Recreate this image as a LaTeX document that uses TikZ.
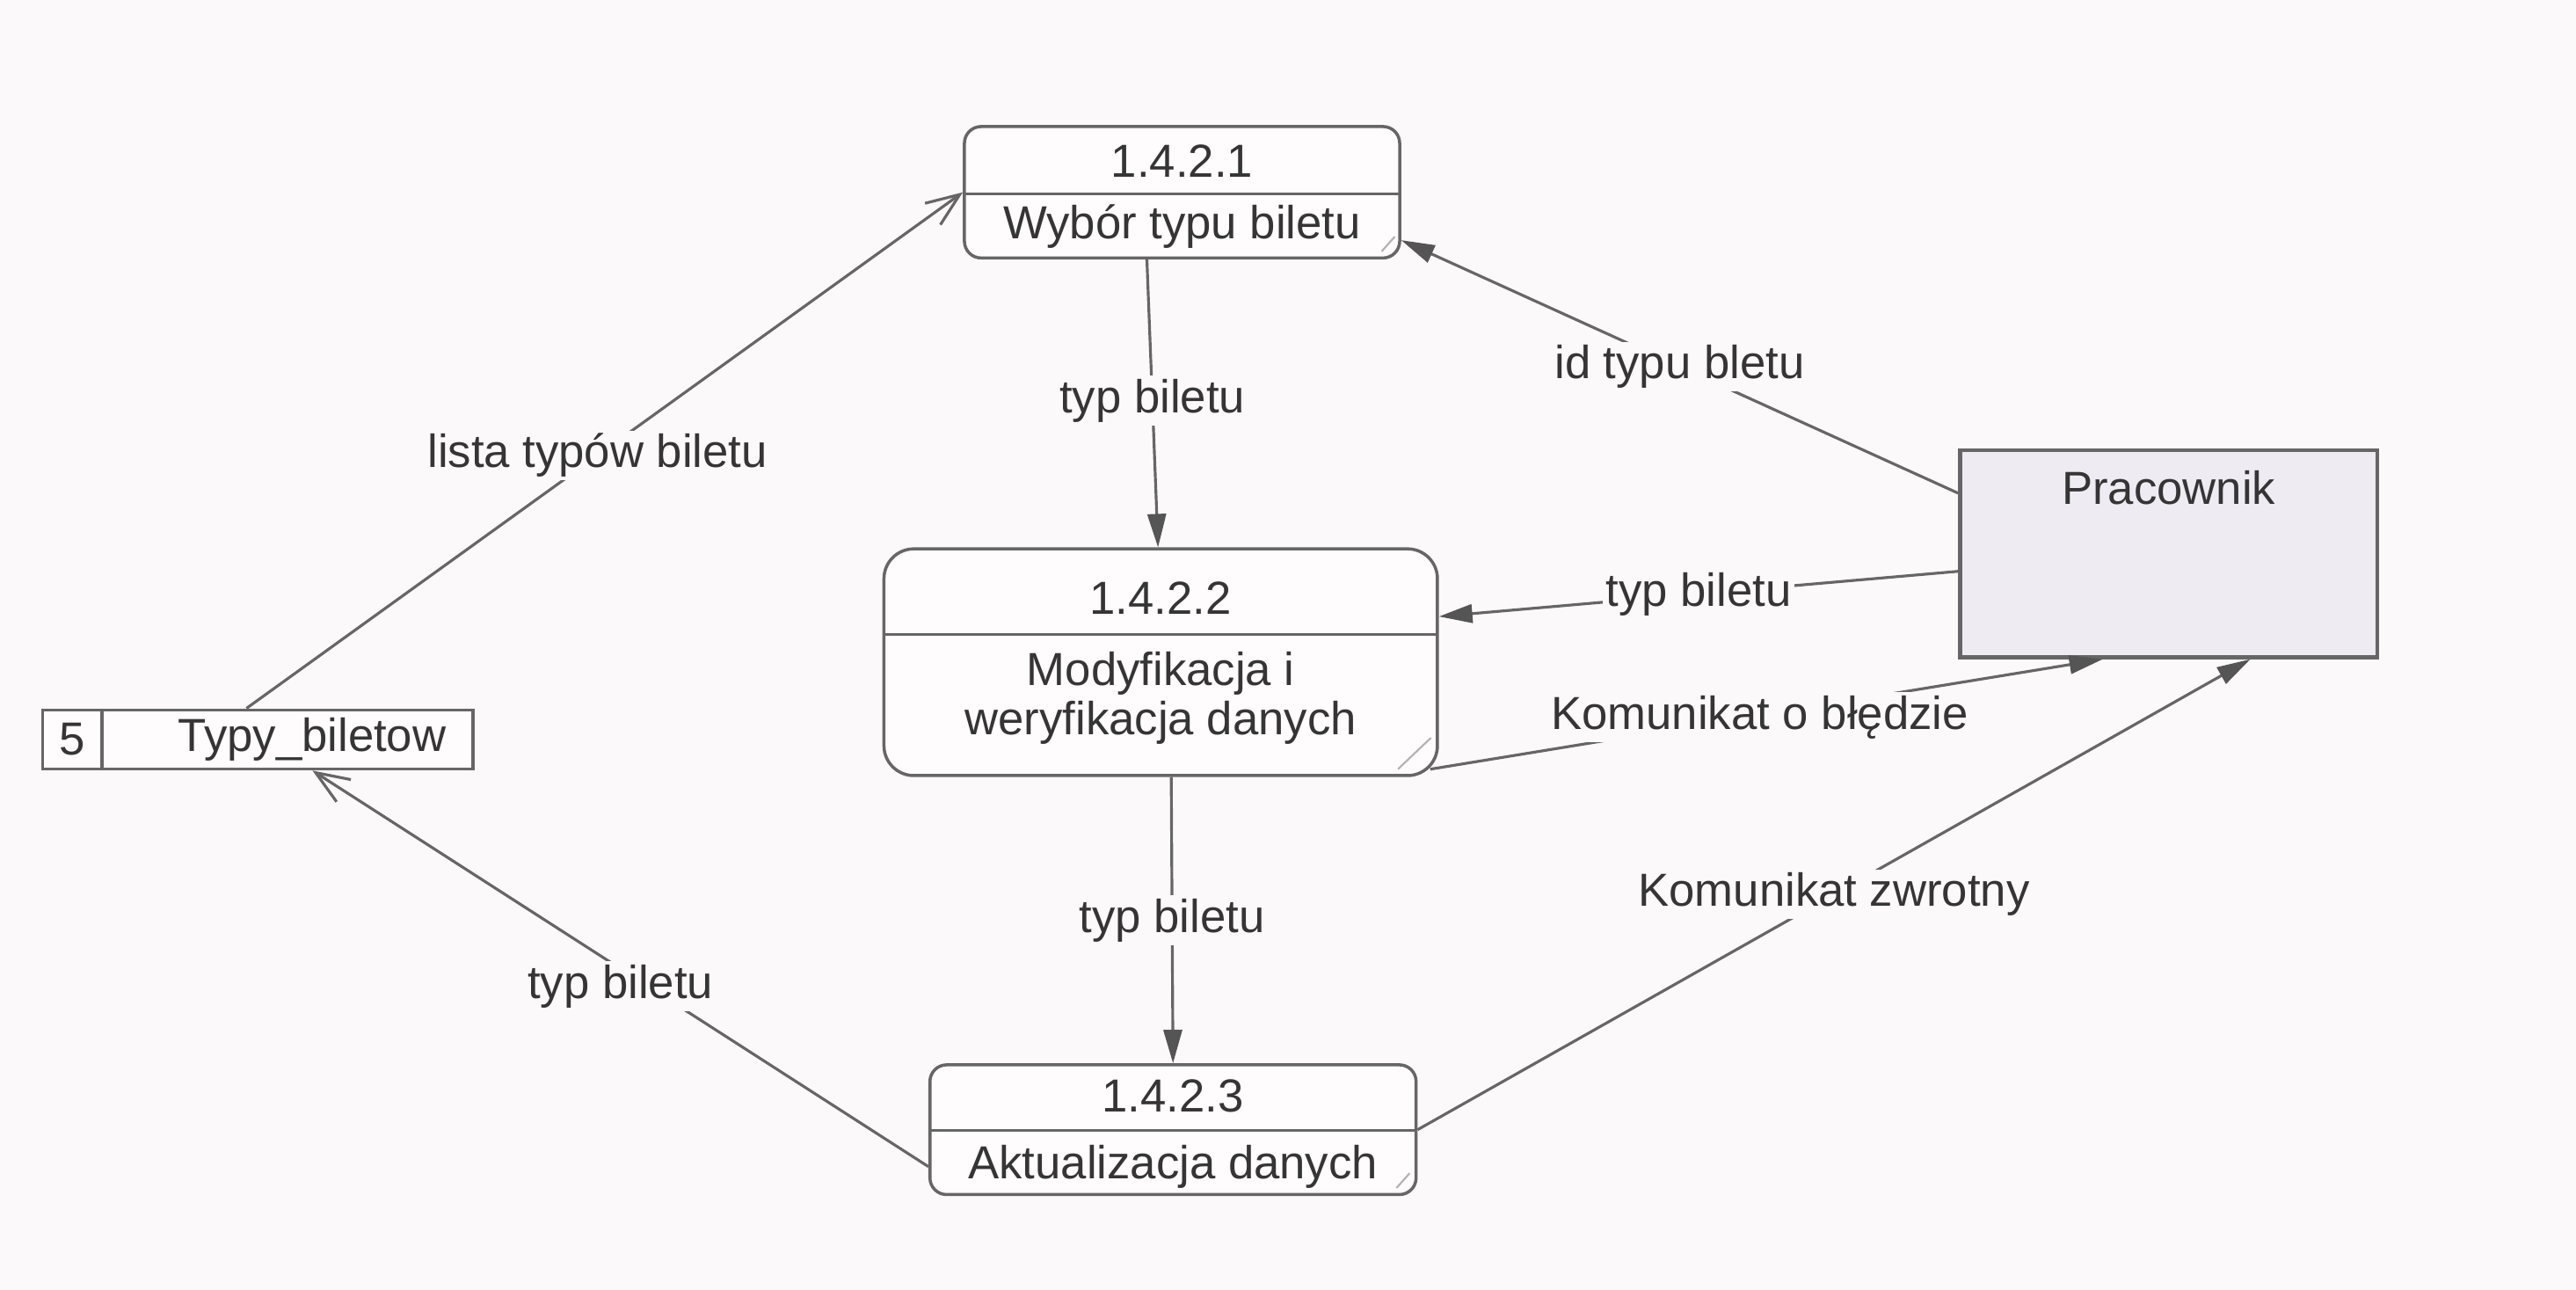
\documentclass[tikz,border=0pt]{standalone}
\usepackage{fontspec}
\setmainfont{Liberation Sans}
\usetikzlibrary{arrows.meta,calc}
\definecolor{bg}{HTML}{FCF9FB}
\definecolor{ln}{HTML}{666666}
\definecolor{tip}{HTML}{555555}
\definecolor{tx}{HTML}{353535}
\definecolor{ent}{HTML}{EEEBF3}
\begin{document}
\begin{tikzpicture}[x=0.018686cm,y=-0.018686cm,
  font=\fontsize{15}{17.5}\selectfont, text=tx,
  proc/.style={draw=ln, line width=1pt, fill=white!50!bg, inner sep=0pt},
  store/.style={draw=ln, line width=1pt, fill=white!50!bg, inner sep=0pt, minimum width=4.896cm, minimum height=0.673cm},
  extent/.style={draw=ln, line width=1.3pt, fill=ent, inner sep=0pt, minimum width=4.746cm, minimum height=2.354cm},
  txt/.style={inner sep=0pt},
  flow/.style={draw=ln, line width=0.9pt},
  ftip/.style={-{Triangle[length=0.38cm,width=0.21cm,color=tip]}},
  otip/.style={-{Straight Barb[length=0.38cm,width=0.3cm]}},
  lbl/.style={fill=bg, inner sep=1pt, text=tx},
  tick/.style={draw=ln!50, line width=0.6pt}
]
\fill[bg] (0,0) rectangle (1568,785);
\useasboundingbox (0,0) rectangle (1568,785);

% processes
\node[proc, rounded corners=0.19cm, minimum width=4.952cm, minimum height=1.495cm] (p1) at (719.5,117) {};
\draw[draw=ln, line width=1pt] (587,118) -- (852,118);
\node[txt] (p1n) at (719.5,98) {1.4.2.1};
\node[txt] (p1t) at (719.5,138) {Wybór typu biletu};
\draw[tick] (841,153) -- (849,144);

\node[proc, rounded corners=0.34cm, minimum width=6.297cm, minimum height=2.579cm] (p2) at (706.5,403) {};
\draw[draw=ln, line width=1pt] (538,386) -- (875,386);
\node[txt] (p2n) at (706.5,364) {1.4.2.2};
\node[txt] (p2a) at (706.5,410) {Modyfikacja i};
\node[txt] (p2b) at (706.5,440) {weryfikacja danych};
\draw[tick] (851,468) -- (871,449);

\node[proc, rounded corners=0.19cm, minimum width=5.531cm, minimum height=1.476cm] (p3) at (714,687.5) {};
\draw[draw=ln, line width=1pt] (566,688) -- (862,688);
\node[txt] (p3n) at (714,667) {1.4.2.3};
\node[txt] (p3t) at (714,710) {Aktualizacja danych};
\draw[tick] (850,723) -- (858,714);

% data store
\node[store] (st) at (157,450) {};
\draw[draw=ln, line width=1pt] (62,432) -- (62,468);
\node[txt] (stn) at (44,450) {5};
\node[txt] (stt) at (190,450) {Typy\_biletow};

% external entity
\node[extent] (pr) at (1320,337) {};
\node[txt] (prt) at (1320,297) {Pracownik};

% flows
\draw[flow, otip] ([xshift=-0.13cm]st.north) -- node[lbl, pos=0.49] (l1) {lista typów biletu} (p1.west);
\draw[flow, ftip] ([xshift=-0.4cm]p1.south) -- node[lbl, pos=0.49] (l2) {typ biletu} ([xshift=-0.03cm]p2.north);
\draw[flow, ftip] ([yshift=0.69cm]pr.west) -- node[lbl, pos=0.5] (l3) {id typu bletu} ([yshift=0.22cm]p1.south east);
\draw[flow, ftip] ([yshift=-0.2cm]pr.west) -- node[lbl, pos=0.5] (l4) {typ biletu} ([yshift=0.52cm]p2.east);
\draw[flow, ftip] ([xshift=-0.1cm,yshift=0.09cm]p2.south east) -- node[lbl, pos=0.49, yshift=-0.02cm] (l5) {Komunikat o błędzie} ([xshift=-0.75cm]pr.south);
\draw[flow, ftip] ([xshift=0.12cm]p2.south) -- node[lbl, pos=0.5] (l6) {typ biletu} (p3.north);
\draw[flow, ftip] (p3.east) -- node[lbl, pos=0.5] (l7) {Komunikat zwrotny} ([xshift=0.93cm]pr.south);
\draw[flow, otip] ([yshift=-0.42cm]p3.west) -- node[lbl, pos=0.5, yshift=-0.2cm] (l8) {typ biletu} ([xshift=0.62cm]st.south);
\end{tikzpicture}
\end{document}
